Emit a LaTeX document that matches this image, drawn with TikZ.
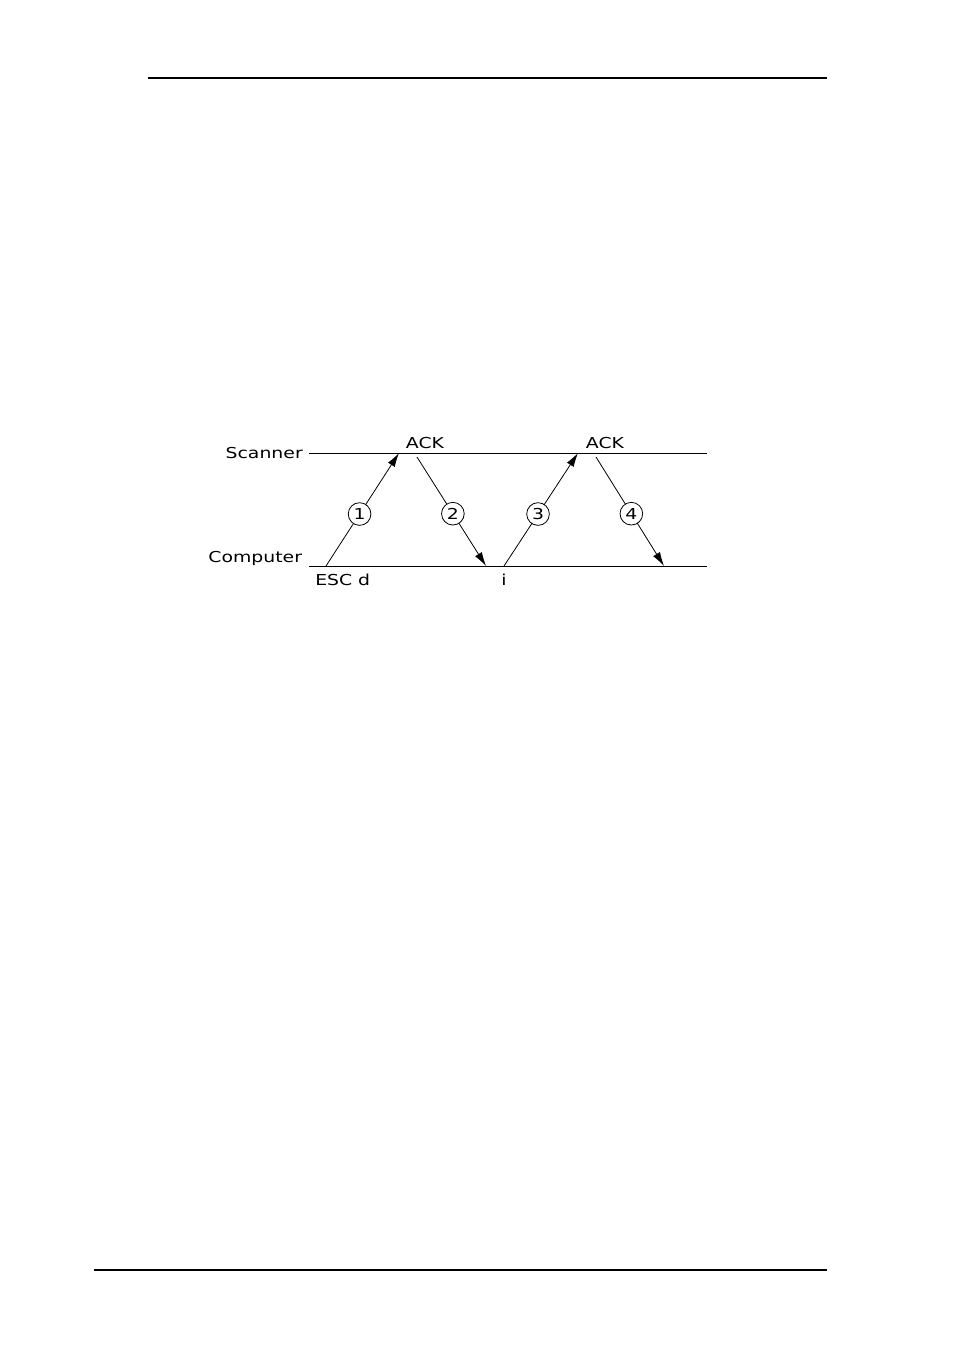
\documentclass[tikz,border=0pt]{standalone}
\usepackage{fontspec}
\setmainfont{DejaVu Sans}[FakeStretch=1.25]
\usetikzlibrary{arrows.meta,positioning}

\begin{document}
\begin{tikzpicture}[
    x=0.75pt, y=-0.75pt,
    font=\fontsize{11.3}{13}\selectfont,
    rule/.style={line width=1pt},
    timeline/.style={line width=0.7pt},
    msg/.style={-{Latex[length=10.5pt,width=6pt]}, line width=0.6pt},
    seq/.style={circle, draw, fill=white, line width=0.6pt, minimum size=17pt, inner sep=0pt},
    lbl/.style={inner sep=0pt}
]
\useasboundingbox (0,0) rectangle (954,1365);

% page rules
\coordinate (top-l) at (148,78);
\coordinate (top-r) at (827,78);
\coordinate (bot-l) at (94,1270);
\coordinate (bot-r) at (827,1270);
\draw[rule] (top-l) -- (top-r);
\draw[rule] (bot-l) -- (bot-r);

% time lines
\coordinate (scan-l) at (309,453);
\coordinate (scan-r) at (707,453);
\coordinate (comp-l) at (309,566);
\coordinate (comp-r) at (707,566);
\draw[timeline] (scan-l) -- (scan-r);
\draw[timeline] (comp-l) -- (comp-r);

\node[lbl, left=4.5pt of scan-l] (scanner) {Scanner};
\node[lbl, anchor=base east, xshift=-5pt, yshift=3pt] (computer) at (comp-l) {Computer};

% messages
\coordinate (c1) at (326,566);
\coordinate (s1) at (399,453);
\coordinate (s2) at (417,457);
\coordinate (c2) at (486,566);
\coordinate (c3) at (504,566);
\coordinate (s3) at (578,453);
\coordinate (s4) at (596,457);
\coordinate (c4) at (664,566);

\draw[msg] (c1) -- node[seq, pos=0.46] (n1) {1} (s1);
\draw[msg] (s2) -- node[seq, pos=0.52] (n2) {2} (c2);
\draw[msg] (c3) -- node[seq, pos=0.46] (n3) {3} (s3);
\draw[msg] (s4) -- node[seq, pos=0.52] (n4) {4} (c4);

\node[lbl, anchor=base] (ack1) at (425,448) {ACK};
\node[lbl, anchor=base] (ack2) at (605,448) {ACK};
\node[lbl, anchor=base west] (esc) at (315,585) {ESC\ d};
\node[lbl, anchor=base] (chi) at (504,585) {i};

\end{tikzpicture}
\end{document}
